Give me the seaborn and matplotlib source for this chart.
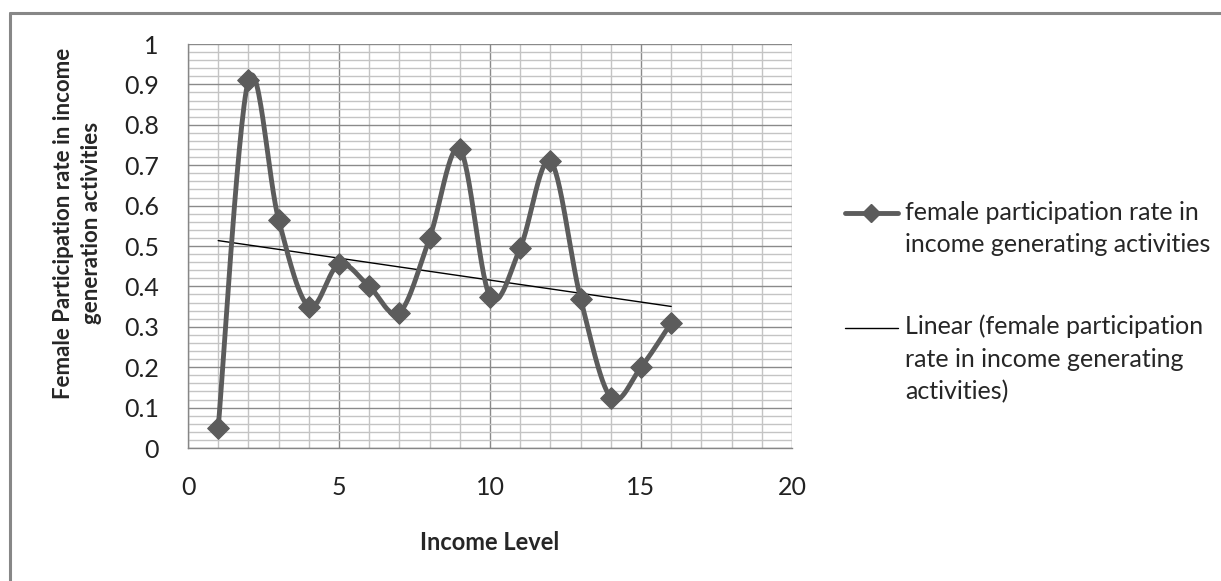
import numpy as np
import matplotlib
matplotlib.use("Agg")
import matplotlib.pyplot as plt
from matplotlib.lines import Line2D
from matplotlib.legend_handler import HandlerLine2D
from matplotlib.ticker import MultipleLocator
import seaborn as sns

# data
income_level = [1, 2, 3, 4, 5, 6, 7, 8, 9, 10, 11, 12, 13, 14, 15, 16]
participation = [0.05, 0.91, 0.565, 0.35, 0.455, 0.40, 0.335, 0.52,
                 0.74, 0.375, 0.495, 0.71, 0.37, 0.125, 0.20, 0.31]

series_label = "female participation rate in\nincome generating activities"
trend_label = "Linear (female participation\nrate in income generating\nactivities)"

LINE_GREY = "#5c5c5c"
FS = 18
LEG_LS = 1.48  # legend line spacing


def smooth(xs, ys, steps=30):
    # Excel-style smoothed line (Catmull-Rom through the points)
    p = np.column_stack([xs, ys]).astype(float)
    p = np.vstack([p[0], p, p[-1]])
    out = []
    for i in range(1, len(p) - 2):
        p0, p1, p2, p3 = p[i - 1], p[i], p[i + 1], p[i + 2]
        t = np.linspace(0, 1, steps)[:, None]
        c1 = p1 + (p2 - p0) / 6
        c2 = p2 - (p3 - p1) / 6
        seg = ((1 - t) ** 3) * p1 + 3 * ((1 - t) ** 2) * t * c1 \
            + 3 * (1 - t) * t ** 2 * c2 + t ** 3 * p2
        out.append(seg if i == 1 else seg[1:])
    out = np.vstack(out)
    return out[:, 0], out[:, 1]


class TopLineHandler(HandlerLine2D):
    # put the legend handle next to the first text line, like Excel does
    def __init__(self, n_lines, **kw):
        super().__init__(**kw)
        self.n_lines = n_lines

    def create_artists(self, legend, orig_handle, xdescent, ydescent,
                       width, height, fontsize, trans):
        arts = super().create_artists(legend, orig_handle, xdescent, ydescent,
                                      width, height, fontsize, trans)
        shift = (self.n_lines - 1) / 2 * fontsize * 0.868 * LEG_LS
        for a in arts:
            a.set_ydata(np.asarray(a.get_ydata()) + shift)
        return arts


sns.set_style("white")
plt.rcParams["font.family"] = ["Lato", "DejaVu Sans"]

fig = plt.figure(figsize=(12.21, 5.81), dpi=100)
ax = fig.add_axes([188 / 1221, 1 - 448 / 581, 604 / 1221, 404 / 581])

sx, sy = smooth(income_level, participation)
sns.lineplot(x=sx, y=sy, sort=False, color=LINE_GREY, lw=3.5, ax=ax, zorder=3)
sns.scatterplot(x=income_level, y=participation, marker="D", s=120,
                color=LINE_GREY, edgecolor=LINE_GREY, ax=ax, zorder=4)
sns.regplot(x=np.array(income_level), y=np.array(participation), scatter=False,
            ci=None, truncate=True, line_kws=dict(color="black", lw=1), ax=ax)

ax.set_xlim(0, 20)
ax.set_ylim(0, 1)
ax.xaxis.set_major_locator(MultipleLocator(5))
ax.xaxis.set_minor_locator(MultipleLocator(1))
ax.yaxis.set_major_locator(MultipleLocator(0.1))
ax.yaxis.set_minor_locator(MultipleLocator(0.02))
ax.set_yticklabels(["0" if v == 0 else ("1" if v == 1 else f"{v:.1f}")
                    for v in ax.get_yticks()])

ax.grid(which="minor", color="#c4c4c4", lw=1.0)
ax.grid(which="major", color="#8a8a8a", lw=1.0)
ax.set_axisbelow(True)
for side in ["top", "right"]:
    ax.spines[side].set_visible(False)
for side in ["left", "bottom"]:
    ax.spines[side].set_color("#868686")
    ax.spines[side].set_linewidth(1.0)
ax.tick_params(which="major", direction="out", length=7, width=1,
               color="#868686", labelsize=FS, labelcolor="#222222")
ax.tick_params(which="minor", length=0)
ax.tick_params(axis="y", pad=14)
ax.tick_params(axis="x", pad=13)

ax.set_xlabel("Income Level", fontsize=17, fontweight="bold", labelpad=0)
ax.xaxis.set_label_coords(0.5, -0.205)
ax.set_ylabel("Female Participation rate in income\ngeneration activities",
              fontsize=16, fontweight="bold", multialignment="center",
              linespacing=1.4)
ax.yaxis.set_label_coords(-0.142, 0.557)

handles = [
    Line2D([], [], color=LINE_GREY, lw=3.5, marker="D", markersize=9),
    Line2D([], [], color="black", lw=1),
]
leg = fig.legend(handles, [series_label, trend_label], loc="upper left",
                 bbox_to_anchor=(835 / 1221, 1 - 191 / 581), frameon=False,
                 fontsize=FS, handlelength=2.1, handletextpad=0.3,
                 labelspacing=2.35, borderaxespad=0,
                 handler_map={handles[0]: TopLineHandler(2),
                              handles[1]: TopLineHandler(3)})
for t in leg.get_texts():
    t.set_linespacing(LEG_LS)

# chart area border (top and left visible in the crop)
fig.add_artist(Line2D([10 / 1221, 1], [1 - 13 / 581, 1 - 13 / 581],
                      color="#878787", lw=2.2, transform=fig.transFigure))
fig.add_artist(Line2D([10 / 1221, 10 / 1221], [0, 1 - 13 / 581],
                      color="#878787", lw=2.2, transform=fig.transFigure))

fig.savefig("out.png", dpi=100)
